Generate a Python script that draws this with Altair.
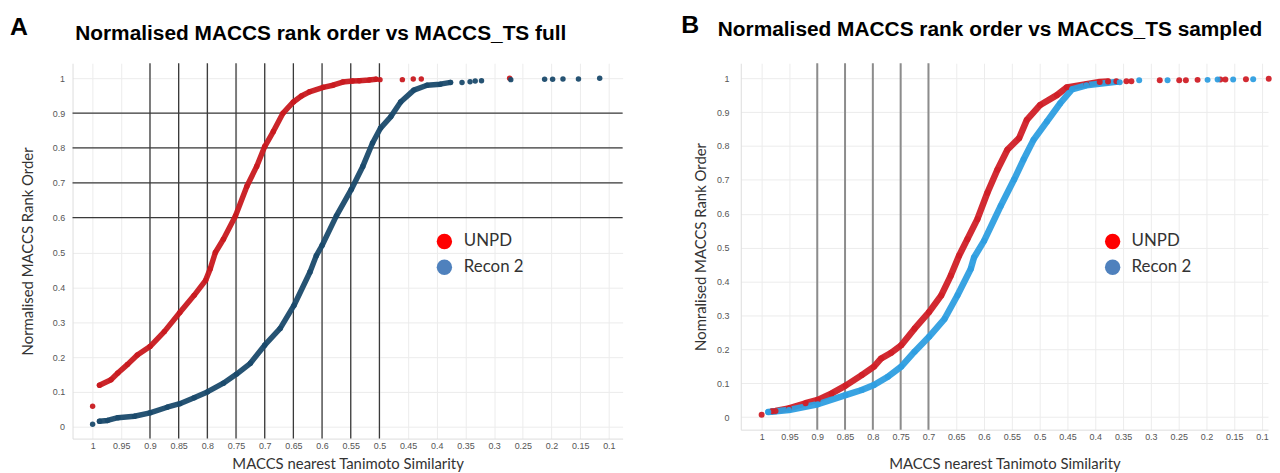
import altair as alt
import pandas as pd

SERIES = ["UNPD", "Recon 2"]
LETTER_A, LETTER_B = "A", "B"
TITLE_A = "Normalised MACCS rank order vs MACCS_TS full"
TITLE_B = "Normalised MACCS rank order vs MACCS_TS sampled"
X_TITLE = "MACCS nearest Tanimoto Similarity"
Y_TITLE_A = "Normalised MACCS Rank Order"
Y_TITLE_B = "Nomralised MACCS Rank Order"

X_TICKS = [1, 0.95, 0.9, 0.85, 0.8, 0.75, 0.7, 0.65, 0.6, 0.55, 0.5, 0.45, 0.4,
           0.35, 0.3, 0.25, 0.2, 0.15, 0.1]
Y_TICKS = [0, 0.1, 0.2, 0.3, 0.4, 0.5, 0.6, 0.7, 0.8, 0.9, 1]

# ---------------- Panel A (full) ----------------
A_UNPD_CURVE_X = [0.988, 0.968, 0.956, 0.939, 0.922, 0.9, 0.875, 0.848, 0.823, 0.803,
                  0.795, 0.786, 0.772, 0.751, 0.731, 0.714, 0.7, 0.685, 0.668, 0.65,
                  0.636, 0.622, 0.598, 0.581, 0.564, 0.547, 0.535, 0.518, 0.506]
A_UNPD_CURVE_Y = [0.119, 0.135, 0.154, 0.179, 0.206, 0.23, 0.273, 0.328, 0.377, 0.42,
                  0.453, 0.5, 0.538, 0.605, 0.69, 0.747, 0.804, 0.847, 0.9, 0.932,
                  0.949, 0.961, 0.974, 0.98, 0.989, 0.992, 0.993, 0.995, 0.997]
A_UNPD_DOTS_X = [1.0, 0.499, 0.46, 0.441, 0.427, 0.273]
A_UNPD_DOTS_Y = [0.059, 0.996, 0.996, 0.998, 0.998, 1.0]

A_RECON_CURVE_X = [0.988, 0.974, 0.956, 0.927, 0.9, 0.87, 0.848, 0.823, 0.8, 0.772,
                   0.749, 0.725, 0.7, 0.673, 0.649, 0.621, 0.61, 0.6, 0.575, 0.549,
                   0.529, 0.512, 0.498, 0.48, 0.463, 0.44, 0.417, 0.394, 0.376]
A_RECON_CURVE_Y = [0.016, 0.018, 0.026, 0.03, 0.04, 0.056, 0.066, 0.083, 0.1, 0.125,
                   0.151, 0.182, 0.234, 0.282, 0.348, 0.444, 0.491, 0.52, 0.605, 0.681,
                   0.747, 0.814, 0.857, 0.89, 0.932, 0.966, 0.98, 0.983, 0.988]
A_RECON_DOTS_X = [1.0, 0.356, 0.342, 0.333, 0.322, 0.271, 0.212, 0.198, 0.18, 0.153, 0.116]
A_RECON_DOTS_Y = [0.007, 0.988, 0.99, 0.992, 0.993, 0.996, 0.997, 0.997, 0.998, 0.998, 1.0]

A_RULES_X = [0.9, 0.85, 0.8, 0.75, 0.7, 0.65, 0.6, 0.55, 0.5]
A_RULES_Y = [0.9, 0.8, 0.7, 0.6]

# ---------------- Panel B (sampled) ----------------
B_UNPD_CURVE_X = [0.981, 0.975, 0.951, 0.921, 0.899, 0.874, 0.849, 0.82, 0.798, 0.785,
                  0.767, 0.749, 0.725, 0.699, 0.677, 0.66, 0.645, 0.63, 0.612, 0.594,
                  0.576, 0.558, 0.537, 0.523, 0.499, 0.469, 0.451, 0.416, 0.392, 0.377]
B_UNPD_CURVE_Y = [0.017, 0.018, 0.026, 0.041, 0.051, 0.07, 0.093, 0.124, 0.149, 0.173,
                  0.19, 0.212, 0.261, 0.31, 0.359, 0.417, 0.476, 0.525, 0.584, 0.662,
                  0.73, 0.789, 0.823, 0.877, 0.921, 0.95, 0.973, 0.982, 0.989, 0.99]
B_UNPD_DOTS_X = [1.0, 0.362, 0.344, 0.335, 0.284, 0.249, 0.237, 0.216, 0.175, 0.166,
                 0.129, 0.088]
B_UNPD_DOTS_Y = [0.007, 0.991, 0.991, 0.991, 0.994, 0.994, 0.994, 0.995, 0.996, 0.996,
                 0.997, 0.998]

B_RECON_CURVE_X = [0.988, 0.951, 0.899, 0.849, 0.82, 0.798, 0.773, 0.749, 0.725, 0.699,
                   0.671, 0.648, 0.624, 0.618, 0.6, 0.57, 0.546, 0.529, 0.511, 0.487,
                   0.463, 0.442, 0.416, 0.362]
B_RECON_CURVE_Y = [0.015, 0.021, 0.038, 0.065, 0.08, 0.095, 0.119, 0.149, 0.193, 0.237,
                   0.29, 0.359, 0.437, 0.471, 0.52, 0.623, 0.701, 0.76, 0.818, 0.872,
                   0.926, 0.967, 0.979, 0.989]
B_RECON_DOTS_X = [0.356, 0.321, 0.27, 0.198, 0.18, 0.152, 0.116]
B_RECON_DOTS_Y = [0.988, 0.994, 0.994, 0.995, 0.996, 0.996, 0.997]

B_RULES_X = [0.9, 0.85, 0.8, 0.75, 0.7]

LEGEND_COLORS = ["#ff0000", "#4f81bd"]


def frame(xs, ys, name):
    return pd.DataFrame({"sim": xs, "rank": ys, "series": name})


def panel(curves, dots, colors, letter, title, ytitle, width, height,
          xdom, ydom, rules_x, rules_y, rule_color, rule_width,
          line_width, pt_size, y_lab_pad, y_title_pad, x_title_pad,
          title_x, title_y, letter_x, letter_y, leg_label_offset):
    allpts = pd.concat([curves, dots], ignore_index=True)
    x = alt.X("sim:Q", scale=alt.Scale(domain=xdom, nice=False, zero=False),
              axis=alt.Axis(values=X_TICKS, format="~g", title=X_TITLE,
                            titlePadding=x_title_pad, labelPadding=3))
    y = alt.Y("rank:Q", scale=alt.Scale(domain=ydom, nice=False, zero=False),
              axis=alt.Axis(values=Y_TICKS, format="~g", title=ytitle,
                            titlePadding=y_title_pad, labelPadding=y_lab_pad))
    cscale = alt.Scale(domain=SERIES, range=colors)

    layers = []
    layers.append(alt.Chart(pd.DataFrame({"sim": rules_x})).mark_rule(
        color=rule_color, strokeWidth=rule_width).encode(x=x))
    if rules_y:
        layers.append(alt.Chart(pd.DataFrame({"rank": rules_y})).mark_rule(
            color=rule_color, strokeWidth=rule_width).encode(y=y))
    layers.append(alt.Chart(curves).mark_line(
        strokeWidth=line_width, strokeCap="round", strokeJoin="round", opacity=0.95
    ).encode(x=x, y=y, detail="series:N",
             color=alt.Color("series:N", scale=cscale, legend=None)))
    layers.append(alt.Chart(allpts).mark_circle(size=pt_size, opacity=0.95).encode(
        x=x, y=y, color=alt.Color("series:N", scale=cscale, legend=None)))
    layers.append(alt.Chart(allpts).mark_circle(opacity=0).encode(
        x=x, y=y,
        color=alt.Color("series:N",
                        scale=alt.Scale(domain=SERIES, range=LEGEND_COLORS),
                        legend=alt.Legend(
                            title=None, orient="none", legendX=366, legendY=171,
                            symbolType="circle", symbolSize=240, symbolOpacity=1,
                            symbolStrokeWidth=0, labelFont="Lato", labelFontSize=17,
                            labelColor="#333333", labelOffset=leg_label_offset,
                            rowPadding=8, padding=0))))
    layers.append(alt.Chart(pd.DataFrame({"t": [letter]})).mark_text(
        align="left", baseline="alphabetic", fontSize=25, fontWeight="bold",
        font="Liberation Sans", color="#000000"
    ).encode(text="t:N", x=alt.value(letter_x), y=alt.value(letter_y)))
    layers.append(alt.Chart(pd.DataFrame({"t": [title]})).mark_text(
        align="center", baseline="alphabetic", fontSize=21, fontWeight="bold",
        font="Liberation Sans", color="#000000"
    ).encode(text="t:N", x=alt.value(title_x), y=alt.value(title_y)))

    return alt.layer(*layers).resolve_scale(color="independent").properties(
        width=width, height=height)


A_curves = pd.concat([frame(A_UNPD_CURVE_X, A_UNPD_CURVE_Y, "UNPD"),
                      frame(A_RECON_CURVE_X, A_RECON_CURVE_Y, "Recon 2")], ignore_index=True)
A_dots = pd.concat([frame(A_UNPD_DOTS_X, A_UNPD_DOTS_Y, "UNPD"),
                    frame(A_RECON_DOTS_X, A_RECON_DOTS_Y, "Recon 2")], ignore_index=True)
B_curves = pd.concat([frame(B_UNPD_CURVE_X, B_UNPD_CURVE_Y, "UNPD"),
                      frame(B_RECON_CURVE_X, B_RECON_CURVE_Y, "Recon 2")], ignore_index=True)
B_dots = pd.concat([frame(B_UNPD_DOTS_X, B_UNPD_DOTS_Y, "UNPD"),
                    frame(B_RECON_DOTS_X, B_RECON_DOTS_Y, "Recon 2")], ignore_index=True)

panelA = panel(A_curves, A_dots, ["#c8191f", "#1a4a6b"], LETTER_A, TITLE_A, Y_TITLE_A,
               554, 378, [1.035, 0.076], [-0.034, 1.043], A_RULES_X, A_RULES_Y,
               "#3a3a3a", 1.3, 5.5, 30, 8, 17, 6, 250, -23, -63, -28, 11)
panelB = panel(B_curves, B_dots, ["#d01f27", "#2e9ee0"], LETTER_B, TITLE_B, Y_TITLE_B,
               531, 369, [1.0375, 0.0893], [-0.037, 1.044], B_RULES_X, [],
               "#8c8c8c", 2, 6.5, 36, 12, 8, 15, 251, -27, -60, -30, 10.5)

chart = alt.hconcat(panelA, panelB, spacing=58).properties(
    padding={"left": 2, "top": 4, "right": 0, "bottom": 0}
).configure_view(stroke=None).configure_axis(
    grid=True, gridColor="#ececec", gridWidth=1, domainColor="#dddddd",
    ticks=False, labelFont="Liberation Sans", labelFontSize=9, labelColor="#555555",
    titleFont="Lato", titleFontSize=15, titleFontWeight="normal", titleColor="#333333"
)

chart.save("out.html", embed_options={"renderer": "svg", "actions": False})
